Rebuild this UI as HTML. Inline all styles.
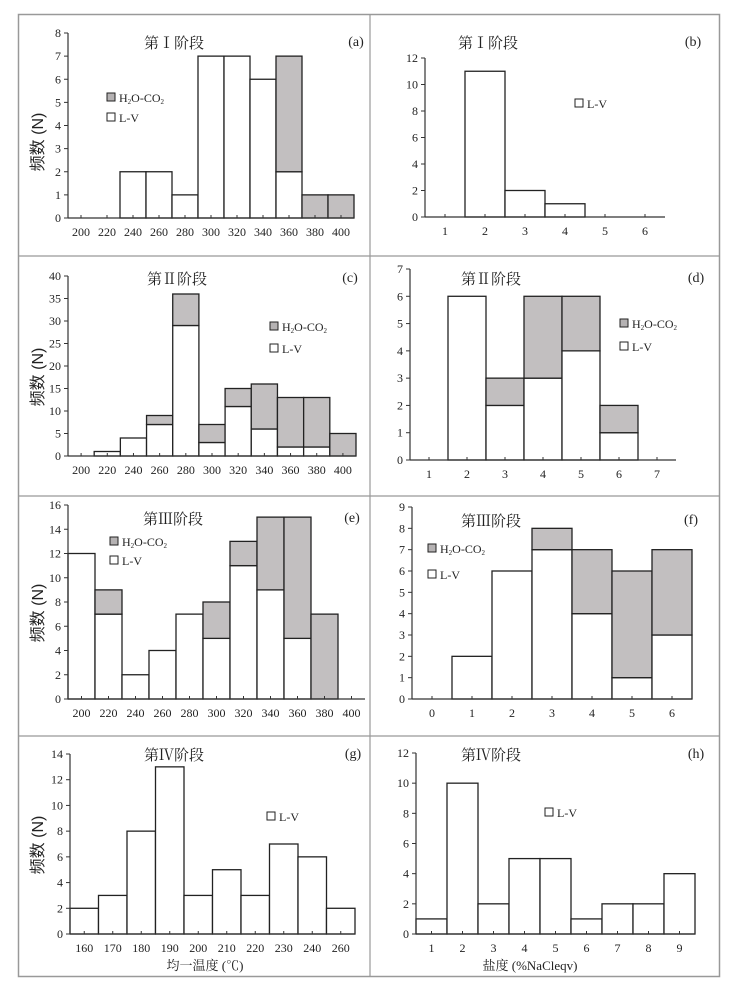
<!DOCTYPE html>
<html><head><meta charset="utf-8"><style>
body{margin:0;background:#fff}
svg text{font-family:"Liberation Serif","Noto Serif CJK SC",serif;fill:#222}
svg text.sans{font-family:"Liberation Sans","Noto Sans CJK SC",sans-serif}
</style></head><body>
<svg id="s" width="737" height="987" xmlns="http://www.w3.org/2000/svg">
<rect x="18.5" y="14.5" width="701" height="962" fill="none" stroke="#999" stroke-width="1.5"/>
<line x1="370" y1="14" x2="370" y2="977" stroke="#999" stroke-width="1.2"/>
<line x1="18" y1="256" x2="720" y2="256" stroke="#999" stroke-width="1.2"/>
<line x1="18" y1="496" x2="720" y2="496" stroke="#999" stroke-width="1.2"/>
<line x1="18" y1="736" x2="720" y2="736" stroke="#999" stroke-width="1.2"/>
</svg>
<script>
const catsA=['200','220','240','260','280','300','320','340','360','380','400'];
const lvA=[0,0,2,2,1,7,7,6,2,0,0];
const hcA=[0,0,0,0,0,0,0,0,5,1,1];
const ticksA=[0,1,2,3,4,5,6,7,8];
const catsB=['1','2','3','4','5','6'];
const lvB=[0,11,2,1,0,0];
const ticksB=[0,2,4,6,8,10,12];
const catsC=['200','220','240','260','280','300','320','340','360','380','400'];
const lvC=[0,1,4,7,29,3,11,6,2,2,0];
const hcC=[0,0,0,2,7,4,4,10,11,11,5];
const ticksC=[0,5,10,15,20,25,30,35,40];
const catsD=['1','2','3','4','5','6','7'];
const lvD=[0,6,2,3,4,1,0];
const hcD=[0,0,1,3,2,1,0];
const ticksD=[0,1,2,3,4,5,6,7];
const catsE=['200','220','240','260','280','300','320','340','360','380','400'];
const lvE=[12,7,2,4,7,5,11,9,5,0,0];
const hcE=[0,2,0,0,0,3,2,6,10,7,0];
const ticksE=[0,2,4,6,8,10,12,14,16];
const catsF=['0','1','2','3','4','5','6'];
const lvF=[0,2,6,7,4,1,3];
const hcF=[0,0,0,1,3,5,4];
const ticksF=[0,1,2,3,4,5,6,7,8,9];
const catsG=['160','170','180','190','200','210','220','230','240','260'];
const lvG=[2,3,8,13,3,5,3,7,6,2];
const ticksG=[0,2,4,6,8,10,12,14];
const catsH=['1','2','3','4','5','6','7','8','9'];
const lvH=[1,10,2,5,5,1,2,2,4];
const ticksH=[0,2,4,6,8,10,12];

const S=document.getElementById('s');
const NS='http://www.w3.org/2000/svg';
function mk(t,a,p){const e=document.createElementNS(NS,t);for(const k in a)e.setAttribute(k,a[k]);(p||S).appendChild(e);return e;}
function txt(x,y,s,size,anchor,p){const e=mk('text',{x:x,y:y,'font-size':size,'text-anchor':anchor||'middle'},p);e.textContent=s;return e;}

function panel(o){
  const g=mk('g',{});
  
  
  const ymax=o.ticks[o.ticks.length-1];
  const yS=v=>o.y0-(o.y0-o.yTop)*v/ymax;
  const bw=(o.x1-o.x0)/o.cats.length;
  const xS=i=>o.x0+i*bw;
  o.cats.forEach((c,i)=>{
    const lv=o.lv[i], hc=o.hc?o.hc[i]:0;
    if(lv>0){const r=mk('rect',{x:xS(i),y:yS(lv),width:bw,height:o.y0-yS(lv),fill:'#fff',stroke:'#222','stroke-width':1.3},g);
      
      }
    if(hc>0){const r=mk('rect',{x:xS(i),y:yS(lv+hc),width:bw,height:yS(lv)-yS(lv+hc),fill:'#c2bfc0',stroke:'#222','stroke-width':1.3},g);
      
      }
  });
  const ya=mk('line',{x1:o.x0,y1:o.yTop,x2:o.x0,y2:o.y0,stroke:'#333','stroke-width':1.2},g);
  
  
  const xa=mk('line',{x1:o.x0,y1:o.y0,x2:o.x1,y2:o.y0,stroke:'#333','stroke-width':1.2},g);
  
  
  o.ticks.forEach(t=>{
    mk('line',{x1:o.x0-4,y1:yS(t),x2:o.x0,y2:yS(t),stroke:'#333'},g);
    const l=txt(o.x0-7,yS(t)+4,String(t),12,'end',g);
    
    
  });
  o.cats.forEach((c,i)=>{
    mk('line',{x1:xS(i+0.5),y1:o.y0,x2:xS(i+0.5),y2:o.y0-3,stroke:'#333'},g);
    const l=txt(xS(i+0.5),o.y0+18,c,12,'middle',g);
    
    
  });
  const t=txt(o.tx,o.ty,o.title,15,'middle',g);
  
  
  const lb=txt(o.lx,o.ty-2,'('+o.id+')',14,'middle',g);
  
  
  let ly=o.legY;
  if(o.hc){
    mk('rect',{x:o.legX,y:ly-5,width:8,height:8,fill:'#b5b2b3',stroke:'#222'},g);
    const e=mk('text',{x:o.legX+12,y:ly+4,'font-size':12},g);
    e.innerHTML='H<tspan font-size="7" dy="2">2</tspan><tspan dy="-2">O-CO</tspan><tspan font-size="7" dy="2">2</tspan>';
    
    
    ly=o.legY2;
  }
  mk('rect',{x:o.legX,y:ly-5,width:8,height:8,fill:'#fff',stroke:'#222'},g);
  const e2=txt(o.legX+12,ly+4,'L-V',12,'start',g);
  
  
  if(o.ytitle){
    const yt=mk('text',{x:0,y:0,'font-size':16,'text-anchor':'middle','class':'sans',transform:'translate(43,'+o.ytitle+') rotate(-90)'},g);
    yt.textContent='频数 (N)';
    
    
  }
}
panel({id:'a',cats:catsA,lv:lvA,hc:hcA,ticks:ticksA,x0:68,x1:354,y0:218,yTop:33,title:'第Ⅰ阶段',tx:174,ty:48,lx:356,legX:107,legY:98,legY2:118,ytitle:142});
panel({id:'b',cats:catsB,lv:lvB,ticks:ticksB,x0:425,x1:665,y0:217,yTop:58,title:'第Ⅰ阶段',tx:488,ty:48,lx:693,legX:575,legY:104});
panel({id:'c',cats:catsC,lv:lvC,hc:hcC,ticks:ticksC,x0:68,x1:356,y0:456,yTop:276,title:'第Ⅱ阶段',tx:177,ty:284,lx:350,legX:270,legY:327,legY2:349,ytitle:377});
panel({id:'d',cats:catsD,lv:lvD,hc:hcD,ticks:ticksD,x0:410,x1:676,y0:460,yTop:269,title:'第Ⅱ阶段',tx:491,ty:284,lx:696,legX:620,legY:324,legY2:347});
panel({id:'e',cats:catsE,lv:lvE,hc:hcE,ticks:ticksE,x0:68,x1:365,y0:699,yTop:505,title:'第Ⅲ阶段',tx:173,ty:524,lx:352,legX:110,legY:542,legY2:561,ytitle:613});
panel({id:'f',cats:catsF,lv:lvF,hc:hcF,ticks:ticksF,x0:412,x1:692,y0:699,yTop:507,title:'第Ⅲ阶段',tx:491,ty:526,lx:691,legX:428,legY:549,legY2:575});
panel({id:'g',cats:catsG,lv:lvG,ticks:ticksG,x0:70,x1:355,y0:934,yTop:754,title:'第Ⅳ阶段',tx:174,ty:760,lx:353,legX:267,legY:817,ytitle:845});
panel({id:'h',cats:catsH,lv:lvH,ticks:ticksH,x0:416,x1:695,y0:934,yTop:753,title:'第Ⅳ阶段',tx:491,ty:760,lx:696,legX:545,legY:813});
const xt1=txt(205,970,'均一温度 (℃)',13,'middle');


const xt2=txt(530,970,'盐度 (%NaCleqv)',13,'middle');


</script>
</body></html>
